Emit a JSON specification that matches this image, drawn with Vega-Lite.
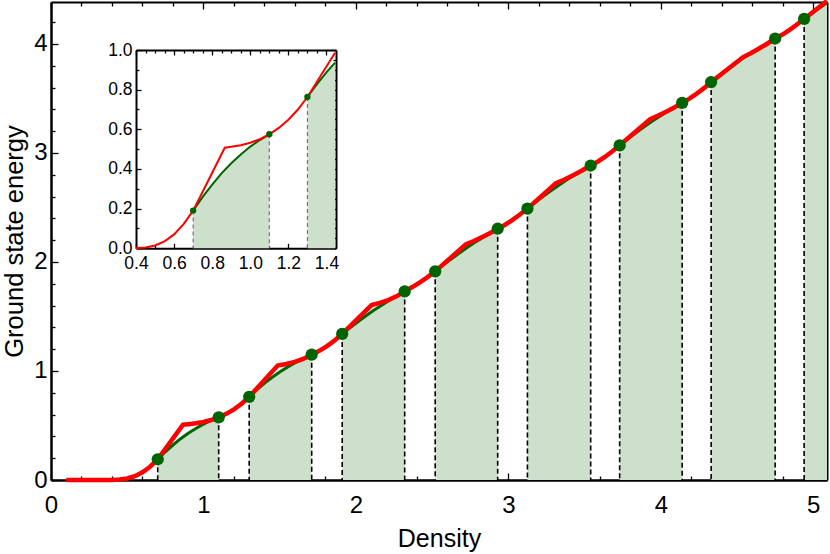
{
"$schema": "https://vega.github.io/schema/vega-lite/v6.json",
"autosize": {"type": "none"},
"width": 776,
"height": 478,
"padding": {"left": 51, "top": 2, "right": 3, "bottom": 74},
"background": "white",
"config": {
  "view": {"stroke": null},
  "axis": {"grid": false, "domainColor": "black", "domainWidth": 2, "tickColor": "black", "tickWidth": 1.3, "labelColor": "black", "labelFont": "Liberation Sans", "titleFont": "Liberation Sans", "titleColor": "black", "titleFontWeight": "normal", "labelFlush": false, "labelOverlap": false}
},
"datasets": {
  "red": [
    {"x":0.1,"y":0},{"x":0.2,"y":0},{"x":0.3,"y":0},{"x":0.35,"y":0.0005},{"x":0.4,"y":0.001},{"x":0.45,"y":0.004},{"x":0.5,"y":0.014},{"x":0.55,"y":0.035},{"x":0.6,"y":0.07},{"x":0.65,"y":0.122},{"x":0.7,"y":0.19},
    {"x":0.866,"y":0.507},{"x":0.9,"y":0.512},{"x":0.95,"y":0.52},{"x":1.0,"y":0.532},{"x":1.05,"y":0.55},{"x":1.1,"y":0.575},
    {"x":1.15,"y":0.607},{"x":1.2,"y":0.648},{"x":1.25,"y":0.7},{"x":1.3,"y":0.763},
    {"x":1.445,"y":0.986},{"x":1.487,"y":1.05},{"x":1.543,"y":1.064},{"x":1.599,"y":1.083},{"x":1.654,"y":1.111},{"x":1.71,"y":1.15},
    {"x":1.76,"y":1.185},{"x":1.81,"y":1.228},{"x":1.86,"y":1.28},{"x":1.91,"y":1.34},
    {"x":2.103,"y":1.605},{"x":2.157,"y":1.625},{"x":2.212,"y":1.65},{"x":2.266,"y":1.685},{"x":2.32,"y":1.73},
    {"x":2.37,"y":1.77},{"x":2.42,"y":1.813},{"x":2.47,"y":1.861},{"x":2.52,"y":1.914},
    {"x":2.72,"y":2.16},{"x":2.773,"y":2.192},{"x":2.825,"y":2.227},{"x":2.878,"y":2.264},{"x":2.93,"y":2.305},
    {"x":2.979,"y":2.342},{"x":3.028,"y":2.386},{"x":3.076,"y":2.436},{"x":3.125,"y":2.49},
    {"x":3.31,"y":2.72},{"x":3.368,"y":2.756},{"x":3.425,"y":2.796},{"x":3.483,"y":2.839},{"x":3.54,"y":2.885},
    {"x":3.588,"y":2.922},{"x":3.635,"y":2.966},{"x":3.683,"y":3.016},{"x":3.73,"y":3.07},
    {"x":3.93,"y":3.31},{"x":3.983,"y":3.343},{"x":4.035,"y":3.379},{"x":4.088,"y":3.418},{"x":4.14,"y":3.46},
    {"x":4.188,"y":3.498},{"x":4.235,"y":3.544},{"x":4.283,"y":3.595},{"x":4.33,"y":3.65},
    {"x":4.54,"y":3.88},{"x":4.593,"y":3.917},{"x":4.645,"y":3.958},{"x":4.698,"y":4.002},{"x":4.75,"y":4.05},
    {"x":4.798,"y":4.086},{"x":4.845,"y":4.129},{"x":4.893,"y":4.178},{"x":4.94,"y":4.23},
    {"x":5.09,"y":4.395}
  ],
  "green": [
    {"seg":1,"x":0.7,"y":0.19},{"seg":1,"x":0.75,"y":0.259},{"seg":1,"x":0.8,"y":0.321},{"seg":1,"x":0.85,"y":0.379},{"seg":1,"x":0.9,"y":0.429},{"seg":1,"x":0.95,"y":0.473},{"seg":1,"x":1.0,"y":0.513},{"seg":1,"x":1.05,"y":0.546},{"seg":1,"x":1.1,"y":0.575},
    {"seg":2,"x":1.3,"y":0.763},{"seg":2,"x":1.351,"y":0.829},{"seg":2,"x":1.403,"y":0.891},{"seg":2,"x":1.445,"y":0.936},{"seg":2,"x":1.454,"y":0.945},{"seg":2,"x":1.505,"y":0.995},{"seg":2,"x":1.556,"y":1.04},{"seg":2,"x":1.608,"y":1.08},{"seg":2,"x":1.659,"y":1.117},{"seg":2,"x":1.71,"y":1.15},
    {"seg":3,"x":1.91,"y":1.34},{"seg":3,"x":1.961,"y":1.397},{"seg":3,"x":2.013,"y":1.451},{"seg":3,"x":2.064,"y":1.504},{"seg":3,"x":2.115,"y":1.555},{"seg":3,"x":2.166,"y":1.601},{"seg":3,"x":2.218,"y":1.646},{"seg":3,"x":2.269,"y":1.689},{"seg":3,"x":2.32,"y":1.73},
    {"seg":4,"x":2.52,"y":1.914},{"seg":4,"x":2.571,"y":1.971},{"seg":4,"x":2.623,"y":2.025},{"seg":4,"x":2.674,"y":2.078},{"seg":4,"x":2.725,"y":2.129},{"seg":4,"x":2.776,"y":2.176},{"seg":4,"x":2.828,"y":2.221},{"seg":4,"x":2.879,"y":2.264},{"seg":4,"x":2.93,"y":2.305},
    {"seg":5,"x":3.125,"y":2.49},{"seg":5,"x":3.177,"y":2.547},{"seg":5,"x":3.229,"y":2.603},{"seg":5,"x":3.281,"y":2.656},{"seg":5,"x":3.333,"y":2.707},{"seg":5,"x":3.384,"y":2.755},{"seg":5,"x":3.436,"y":2.8},{"seg":5,"x":3.488,"y":2.844},{"seg":5,"x":3.54,"y":2.885},
    {"seg":6,"x":3.73,"y":3.07},{"seg":6,"x":3.781,"y":3.127},{"seg":6,"x":3.833,"y":3.181},{"seg":6,"x":3.884,"y":3.234},{"seg":6,"x":3.935,"y":3.285},{"seg":6,"x":3.986,"y":3.331},{"seg":6,"x":4.038,"y":3.376},{"seg":6,"x":4.089,"y":3.419},{"seg":6,"x":4.14,"y":3.46},
    {"seg":7,"x":4.33,"y":3.65},{"seg":7,"x":4.383,"y":3.708},{"seg":7,"x":4.435,"y":3.764},{"seg":7,"x":4.488,"y":3.818},{"seg":7,"x":4.54,"y":3.87},{"seg":7,"x":4.593,"y":3.918},{"seg":7,"x":4.645,"y":3.964},{"seg":7,"x":4.698,"y":4.008},{"seg":7,"x":4.75,"y":4.05},
    {"seg":8,"x":4.94,"y":4.23},{"seg":8,"x":4.991,"y":4.283},{"seg":8,"x":5.043,"y":4.333},{"seg":8,"x":5.09,"y":4.378}
  ],
  "pts": [
    {"x":0.7,"y":0.19},{"x":1.1,"y":0.575},{"x":1.3,"y":0.763},{"x":1.71,"y":1.15},{"x":1.91,"y":1.34},{"x":2.32,"y":1.73},{"x":2.52,"y":1.914},{"x":2.93,"y":2.305},{"x":3.125,"y":2.49},{"x":3.54,"y":2.885},{"x":3.73,"y":3.07},{"x":4.14,"y":3.46},{"x":4.33,"y":3.65},{"x":4.75,"y":4.05},{"x":4.94,"y":4.23}
  ]
},
"resolve": {"scale": {"x": "independent", "y": "independent"}, "axis": {"x": "independent", "y": "independent"}},
"layer": [
  {
    "layer": [
      {"data": {"name": "green"}, "mark": {"type": "area", "color": "#CCE0CC", "opacity": 1},
       "encoding": {
         "x": {"field": "x", "type": "quantitative", "scale": {"domain": [0, 5.09], "nice": false},
               "axis": {"orient": "bottom", "values": [0,1,2,3,4,5], "tickSize": -7, "format": "d", "labelOverlap": false, "labelFlush": false,
                        "labelFontSize": 24, "labelPadding": 20, "title": "Density", "titleFontSize": 25, "titlePadding": 9}},
         "y": {"field": "y", "type": "quantitative", "stack": null, "scale": {"domain": [0, 4.385], "nice": false},
               "axis": {"orient": "left", "values": [0,1,2,3,4], "tickSize": -7, "format": "d", "labelOverlap": false, "labelFlush": false,
                        "labelFontSize": 24, "labelPadding": 11, "title": "Ground state energy", "titleFontSize": 25.5, "titlePadding": 6}},
         "detail": {"field": "seg"}
       }},
      {"data": {"name": "pts"}, "mark": {"type": "rule", "color": "black", "strokeWidth": 1.6, "strokeDash": [5, 3]},
       "encoding": {"x": {"field": "x", "type": "quantitative"}, "y": {"field": "y", "type": "quantitative"}, "y2": {"datum": 0}}},
      {"data": {"name": "green"}, "mark": {"type": "line", "color": "#006400", "strokeWidth": 3},
       "encoding": {"x": {"field": "x", "type": "quantitative"}, "y": {"field": "y", "type": "quantitative"}, "detail": {"field": "seg"}}},
      {"data": {"name": "red"}, "mark": {"type": "line", "color": "#FF0000", "strokeWidth": 4.5},
       "encoding": {"x": {"field": "x", "type": "quantitative"}, "y": {"field": "y", "type": "quantitative"}}},
      {"data": {"name": "pts"}, "mark": {"type": "point", "filled": true, "color": "#006400", "opacity": 1, "size": 150},
       "encoding": {"x": {"field": "x", "type": "quantitative"}, "y": {"field": "y", "type": "quantitative"}}}
    ]
  },
  {
    "data": {"name": "pts"}, "mark": {"type": "point", "opacity": 0},
    "encoding": {
      "x": {"field": "x", "type": "quantitative", "scale": {"domain": [0, 5.09], "nice": false},
            "axis": {"orient": "bottom", "values": [0.2,0.4,0.6,0.8,1.2,1.4,1.6,1.8,2.2,2.4,2.6,2.8,3.2,3.4,3.6,3.8,4.2,4.4,4.6,4.8],
                     "tickSize": -4, "labels": false, "title": null}},
      "y": {"field": "y", "type": "quantitative", "scale": {"domain": [0, 4.385], "nice": false},
            "axis": {"orient": "left", "values": [0.2,0.4,0.6,0.8,1.2,1.4,1.6,1.8,2.2,2.4,2.6,2.8,3.2,3.4,3.6,3.8,4.2],
                     "tickSize": -4, "labels": false, "title": null}}
    }
  },
  {
    "data": {"name": "pts"}, "mark": {"type": "point", "opacity": 0},
    "encoding": {
      "x": {"field": "x", "type": "quantitative", "scale": {"domain": [0, 5.09], "nice": false},
            "axis": {"orient": "top", "values": [0,0.2,0.4,0.6,0.8,1,1.2,1.4,1.6,1.8,2,2.2,2.4,2.6,2.8,3,3.2,3.4,3.6,3.8,4,4.2,4.4,4.6,4.8,5],
                     "tickSize": {"condition": {"test": "datum.value % 1 === 0", "value": -7}, "value": -4}, "labels": false, "title": null}},
      "y": {"field": "y", "type": "quantitative", "scale": {"domain": [0, 4.385], "nice": false},
            "axis": {"orient": "right", "values": [0,0.2,0.4,0.6,0.8,1,1.2,1.4,1.6,1.8,2,2.2,2.4,2.6,2.8,3,3.2,3.4,3.6,3.8,4,4.2],
                     "tickSize": {"condition": {"test": "datum.value % 1 === 0", "value": -7}, "value": -4}, "labels": false, "title": null}}
    }
  },
  {
    "layer": [
      {"data": {"name": "green"}, "transform": [{"filter": "datum.x >= 0.4 && datum.x <= 1.45"}], "mark": {"type": "area", "color": "#CCE0CC", "opacity": 1},
       "encoding": {
         "x": {"field": "x", "type": "quantitative", "scale": {"domain": [0.4, 1.45], "range": [85, 285], "nice": false},
               "axis": {"orient": "bottom", "offset": -231.7, "values": [0.4,0.45,0.5,0.55,0.6,0.65,0.7,0.75,0.8,0.85,0.9,0.95,1,1.05,1.1,1.15,1.2,1.25,1.3,1.35,1.4],
                        "tickSize": {"condition": {"test": "abs(datum.value*5 - round(datum.value*5)) < 0.001", "value": -5}, "value": -3},
                        "labelExpr": "abs(datum.value*5 - round(datum.value*5)) < 0.001 ? format(datum.value, '.1f') : ''", "labelOverlap": false, "labelFlush": false,
                        "labelFontSize": 17.5, "labelPadding": 11, "title": null}},
         "y": {"field": "y", "type": "quantitative", "stack": null, "scale": {"domain": [0, 1], "range": [246.3, 48], "nice": false},
               "axis": {"orient": "left", "offset": -85, "values": [0,0.05,0.1,0.15,0.2,0.25,0.3,0.35,0.4,0.45,0.5,0.55,0.6,0.65,0.7,0.75,0.8,0.85,0.9,0.95,1],
                        "tickSize": {"condition": {"test": "abs(datum.value*5 - round(datum.value*5)) < 0.001", "value": -5}, "value": -3},
                        "labelExpr": "abs(datum.value*5 - round(datum.value*5)) < 0.001 ? format(datum.value, '.1f') : ''", "labelOverlap": false, "labelFlush": false,
                        "labelFontSize": 17.5, "labelPadding": 9, "title": null}},
         "detail": {"field": "seg"}
       }},
      {"data": {"name": "pts"}, "transform": [{"filter": "datum.x >= 0.4 && datum.x <= 1.45"}], "mark": {"type": "rule", "color": "#777777", "strokeWidth": 1.2, "strokeDash": [4, 3]},
       "encoding": {"x": {"field": "x", "type": "quantitative"}, "y": {"field": "y", "type": "quantitative"}, "y2": {"datum": 0}}},
      {"data": {"name": "green"}, "transform": [{"filter": "datum.x >= 0.4 && datum.x <= 1.45"}], "mark": {"type": "line", "color": "#006400", "strokeWidth": 2},
       "encoding": {"x": {"field": "x", "type": "quantitative"}, "y": {"field": "y", "type": "quantitative"}, "detail": {"field": "seg"}}},
      {"data": {"name": "red"}, "transform": [{"filter": "datum.x >= 0.4 && datum.x <= 1.45"}], "mark": {"type": "line", "color": "#FF0000", "strokeWidth": 2},
       "encoding": {"x": {"field": "x", "type": "quantitative"}, "y": {"field": "y", "type": "quantitative"}}},
      {"data": {"name": "pts"}, "transform": [{"filter": "datum.x >= 0.4 && datum.x <= 1.45"}], "mark": {"type": "point", "filled": true, "color": "#006400", "opacity": 1, "size": 40},
       "encoding": {"x": {"field": "x", "type": "quantitative"}, "y": {"field": "y", "type": "quantitative"}}}
    ]
  },
  {
    "data": {"name": "pts"}, "mark": {"type": "point", "opacity": 0},
    "encoding": {
      "x": {"field": "x", "type": "quantitative", "scale": {"domain": [0.4, 1.45], "range": [85, 285], "nice": false},
            "axis": {"orient": "top", "offset": -48, "values": [0.4,0.45,0.5,0.55,0.6,0.65,0.7,0.75,0.8,0.85,0.9,0.95,1,1.05,1.1,1.15,1.2,1.25,1.3,1.35,1.4],
                     "tickSize": {"condition": {"test": "abs(datum.value*5 - round(datum.value*5)) < 0.001", "value": -5}, "value": -3}, "labels": false, "title": null}},
      "y": {"field": "y", "type": "quantitative", "scale": {"domain": [0, 1], "range": [246.3, 48], "nice": false},
            "axis": {"orient": "right", "offset": -491, "values": [0,0.05,0.1,0.15,0.2,0.25,0.3,0.35,0.4,0.45,0.5,0.55,0.6,0.65,0.7,0.75,0.8,0.85,0.9,0.95,1],
                     "tickSize": {"condition": {"test": "abs(datum.value*5 - round(datum.value*5)) < 0.001", "value": -5}, "value": -3}, "labels": false, "title": null}}
    }
  }
]
}
